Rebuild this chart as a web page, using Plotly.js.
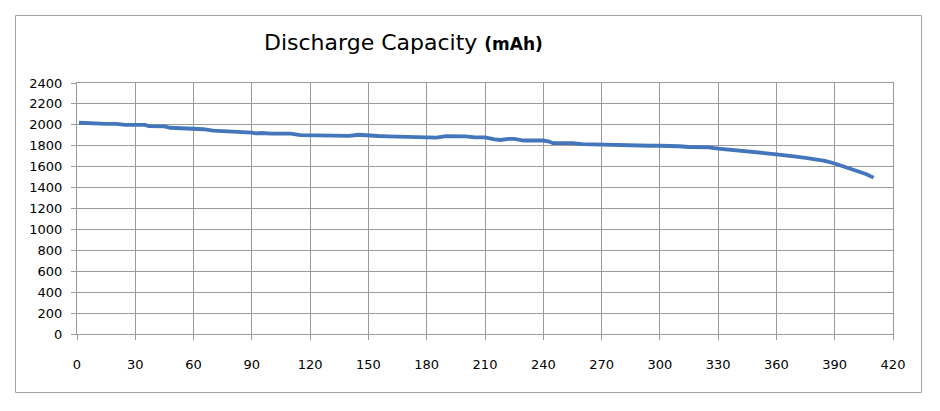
<!DOCTYPE html>
<html>
<head>
<meta charset="utf-8">
<script src="https://cdn.plot.ly/plotly-3.0.1.min.js"></script>
<style>
html,body{margin:0;padding:0;background:#fff;}
#chart{width:940px;height:411px;}
</style>
</head>
<body>
<div id="chart"></div>
<script>
// Data
var cycles = [1,5,10,12,15,20,25,30,35,37,40,45,48,50,55,60,65,70,75,80,82,85,90,92,95,100,105,110,115,120,125,130,135,140,145,150,155,160,165,170,175,180,185,190,195,200,205,210,215,218,222,225,230,235,240,243,245,250,255,260,265,270,275,280,285,290,295,300,305,310,315,320,325,330,335,340,345,350,355,360,365,370,375,380,385,390,393,396,400,403,406,410];
var capacity = [2020,2020,2020,2012,2010,2010,2000,2000,2000,1988,1985,1985,1972,1970,1970,1960,1958,1945,1940,1940,1932,1932,1925,1918,1922,1915,1915,1915,1902,1900,1895,1900,1900,1895,1905,1895,1893,1890,1887,1890,1880,1878,1878,1892,1892,1890,1880,1880,1862,1855,1865,1865,1850,1850,1850,1840,1825,1825,1825,1815,1812,1812,1810,1810,1800,1800,1800,1800,1800,1795,1788,1785,1785,1772,1765,1752,1748,1738,1728,1718,1710,1695,1685,1670,1655,1630,1612,1594,1570,1553,1530,1495];
var xTicks = [0,30,60,90,120,150,180,210,240,270,300,330,360,390,420];
var yTicks = [0,200,400,600,800,1000,1200,1400,1600,1800,2000,2200,2400];
var titleMain = "Discharge Capacity";
var titleUnit = "(mAh)";

var L = 77, R = 47, T = 83, B = 77;
var W = 940, H = 411;
var pw = W - L - R, ph = H - T - B;
function px(x){ return (x - L) / pw; }
function py(y){ return (H - B - y) / ph; }

var trace = {
  x: cycles,
  y: capacity,
  type: 'scatter',
  mode: 'lines',
  line: {color: '#4376ba', width: 3.8},
  hoverinfo: 'x+y'
};

var gridC = '#9a9a9a';
var tickFont = {family: 'DejaVu Sans, sans-serif', size: 13, color: '#000'};

var layout = {
  width: W, height: H,
  margin: {l: L, r: R, t: T, b: B, pad: 0},
  paper_bgcolor: '#fff',
  plot_bgcolor: '#fff',
  showlegend: false,
  xaxis: {
    range: [0, 420],
    tickvals: xTicks,
    ticktext: xTicks.map(String),
    showgrid: true, gridcolor: gridC, gridwidth: 1,
    showline: true, linecolor: gridC, linewidth: 1, mirror: true,
    zeroline: false,
    ticks: 'outside', ticklen: 5, tickcolor: gridC, tickwidth: 1,
    ticklabelstandoff: 13,
    tickfont: tickFont,
    fixedrange: true
  },
  yaxis: {
    range: [0, 2400],
    tickvals: yTicks,
    ticktext: yTicks.map(String),
    showgrid: true, gridcolor: gridC, gridwidth: 1,
    showline: true, linecolor: gridC, linewidth: 1, mirror: true,
    zeroline: false,
    ticks: 'outside', ticklen: 5, tickcolor: gridC, tickwidth: 1,
    ticklabelstandoff: 6,
    tickfont: tickFont,
    fixedrange: true
  },
  annotations: [{
    xref: 'paper', yref: 'paper',
    x: px(262), y: py(43),
    xanchor: 'left', yanchor: 'middle',
    showarrow: false,
    text: titleMain + " <b><span style='font-size:17px'>" + titleUnit + "</span></b>",
    font: {family: 'DejaVu Sans, sans-serif', size: 22, color: '#000'}
  }],
  shapes: [{
    type: 'rect', xref: 'paper', yref: 'paper',
    x0: px(15.5), x1: px(921.5), y0: py(392.5), y1: py(15.5),
    line: {color: '#a6a6a6', width: 1},
    fillcolor: 'rgba(0,0,0,0)',
    layer: 'below'
  }]
};

Plotly.newPlot('chart', [trace], layout, {displayModeBar: false, staticPlot: true});
</script>
</body>
</html>
